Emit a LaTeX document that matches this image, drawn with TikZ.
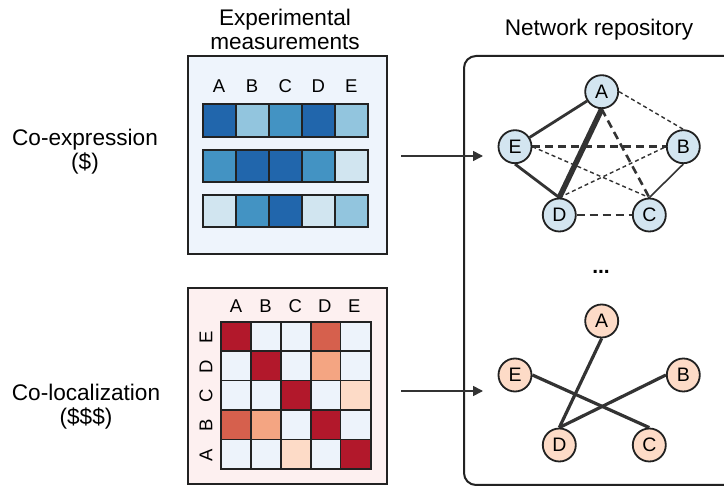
\documentclass[tikz,border=0pt]{standalone}
\usepackage{fontspec}
\setmainfont{Liberation Sans}
\usetikzlibrary{arrows.meta}
\definecolor{linec}{HTML}{222222}
\definecolor{edgec}{HTML}{333333}
\definecolor{bgblue}{HTML}{EEF4FC}
\definecolor{bgred}{HTML}{FDF0F0}
\definecolor{blueA}{HTML}{2166AC}
\definecolor{blueB}{HTML}{4393C3}
\definecolor{blueC}{HTML}{92C5DE}
\definecolor{blueD}{HTML}{D1E5F0}
\definecolor{redA}{HTML}{B2182B}
\definecolor{redB}{HTML}{D6604D}
\definecolor{redC}{HTML}{F4A582}
\definecolor{redD}{HTML}{FDDBC7}
\definecolor{cellbg}{HTML}{EDF3FB}
\definecolor{nodeblue}{HTML}{D3E5F0}
\definecolor{nodepeach}{HTML}{FDDBC7}
\pgfdeclarelayer{bg}
\pgfdeclarelayer{paper}
\pgfsetlayers{paper,bg,main}
\begin{document}
\begin{tikzpicture}[x=1pt,y=-1pt,
  lbl/.style={font=\fontsize{22.6}{24}\selectfont, align=center, inner sep=0},
  small/.style={font=\fontsize{18.5}{18.5}\selectfont, inner sep=0},
  boxline/.style={draw=linec, line width=2},
  cellline/.style={draw=linec, line width=1.6},
  gnode/.style={circle, draw=linec, line width=1.8, minimum size=33, inner sep=0, font=\fontsize{19.5}{19.5}\selectfont},
  solidthick/.style={draw=edgec, line width=2.8},
  solidheavy/.style={draw=edgec, line width=5.5},
  solidthin/.style={draw=edgec, line width=1.6},
  dashthick/.style={draw=edgec, line width=2.6, dash pattern=on 8pt off 5pt},
  dotthin/.style={draw=edgec, line width=1.4, dash pattern=on 4pt off 3pt},
  arr/.style={draw=edgec, line width=1.6, -{Triangle[length=10pt,width=10pt]}}
]
\useasboundingbox (0,0) rectangle (724,486);
\begin{pgfonlayer}{paper}
\fill[white] (0,0) rectangle (724,486);
\end{pgfonlayer}

% left labels
\node[lbl] (coexp) at (85,152) {Co-expression\\(\$)};
\node[lbl] (coloc) at (86,407) {Co-localization\\(\$\$\$)};
\node[lbl] (exphead) at (285,29) {Experimental\\measurements};
\node[lbl] (nethead) at (599,30) {Network repository};

% top box
\draw[boxline, fill=bgblue] (188,56) rectangle (387,254);
\foreach \l [count=\i from 0] in {A,B,C,D,E}
  \node[small] at (219+33.1*\i,86) {\l};
\foreach \y/\cols in {104.3/{blueA,blueC,blueB,blueA,blueC},
                      150/{blueB,blueA,blueA,blueB,blueD},
                      195/{blueD,blueB,blueA,blueD,blueC}} {
  \foreach \c [count=\i from 0] in \cols
    \draw[cellline, fill=\c] (202.7+33.1*\i,\y) rectangle ++(33.1,32.4);
  \draw[boxline] (202.7,\y) rectangle ++(165.5,32.4);
}

% bottom box
\draw[boxline, fill=bgred] (188,288) rectangle (387,484);
\foreach \l [count=\i from 0] in {A,B,C,D,E}
  \node[small] at (236+29.6*\i,306) {\l};
\foreach \l [count=\i from 0] in {E,D,C,B,A}
  \node[small, rotate=90] at (206,337+29.6*\i) {\l};
\foreach \y/\cols in {0/{redA,cellbg,cellbg,redB,cellbg},
                      1/{cellbg,redA,cellbg,redC,cellbg},
                      2/{cellbg,cellbg,redA,cellbg,redD},
                      3/{redB,redC,cellbg,redA,cellbg},
                      4/{cellbg,cellbg,redD,cellbg,redA}} {
  \foreach \c [count=\i from 0] in \cols
    \draw[cellline, fill=\c] (221+29.9*\i,321.7+29.5*\y) rectangle ++(29.9,29.5);
}
\draw[boxline] (221,321.7) rectangle (370.5,469.2);

% network repository box
\draw[boxline, rounded corners=12] (464,56) rectangle (780,485);

% arrows
\coordinate (a1s) at (401,156);
\coordinate (a1e) at (483,156);
\coordinate (a2s) at (401,391);
\coordinate (a2e) at (483,391);
\draw[arr] (a1s) -- (a1e);
\draw[arr] (a2s) -- (a2e);

% top graph
\node[gnode, fill=nodeblue] (A) at (601.7,91.7) {A};
\node[gnode, fill=nodeblue] (E) at (515,146.7) {E};
\node[gnode, fill=nodeblue] (B) at (683.3,146.7) {B};
\node[gnode, fill=nodeblue] (D) at (559.3,215) {D};
\node[gnode, fill=nodeblue] (C) at (649.3,215) {C};
\begin{pgfonlayer}{bg}
\draw[solidthick] (A) -- (E);
\draw[solidthick] (E.south) -- (D.north);
\draw[solidthin] (B.south) -- (C.north);
\draw[dotthin] (A.east) -- (B.north);
\draw[dotthin] (E.east) -- (C.north);
\draw[dotthin] (D.north) -- (B.west);
\draw[dashthick] (A.south) -- (C.north);
\draw[dashthick] (E.east) -- (B.west);
\draw[dashthick] (D.east) -- (C.west);
\draw[solidheavy] (A.south) -- (D.north);
\end{pgfonlayer}

\node[font=\fontsize{21}{21}\selectfont\bfseries, inner sep=0] (dots) at (601,272) {...};

% bottom graph
\node[gnode, fill=nodepeach] (A2) at (601.7,321) {A};
\node[gnode, fill=nodepeach] (E2) at (515,375) {E};
\node[gnode, fill=nodepeach] (B2) at (683.3,375) {B};
\node[gnode, fill=nodepeach] (D2) at (559.3,445) {D};
\node[gnode, fill=nodepeach] (C2) at (649.3,445) {C};
\begin{pgfonlayer}{bg}
\draw[solidthick, line width=3.2] (A2.south) -- (D2.north);
\draw[solidthick, line width=3.2] (E2.east) -- (C2.north);
\draw[solidthick, line width=3.2] (B2.west) -- (D2.north);
\end{pgfonlayer}
\end{tikzpicture}
\end{document}
